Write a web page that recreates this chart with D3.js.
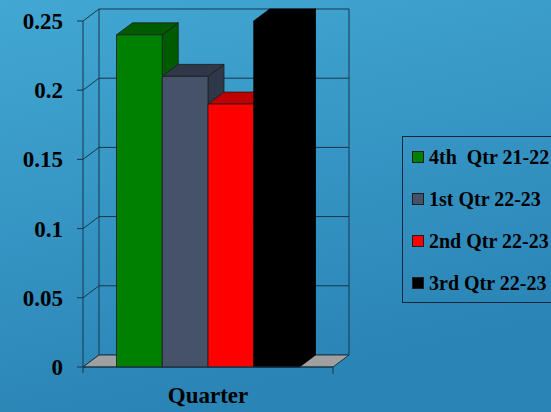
<!DOCTYPE html>
<html><head><meta charset="utf-8">
<script src="https://cdn.jsdelivr.net/npm/d3@7"></script>
<style>html,body{margin:0;padding:0;overflow:hidden;background:#3396c4}</style>
</head><body>
<script>
const categories = ["Quarter"];
const seriesNames = ["4th  Qtr 21-22", "1st Qtr 22-23", "2nd Qtr 22-23", "3rd Qtr 22-23"];
const seriesValues = [0.24, 0.21, 0.19, 0.25];
const yTicks = [0, 0.05, 0.1, 0.15, 0.2, 0.25];
const yTickLabels = ["0", "0.05", "0.1", "0.15", "0.2", "0.25"];
const frontColors = ["#008000", "#45526a", "#ff0000", "#000000"];
const shadeColors = ["#005a00", "#2f3848", "#c00000", "#000000"];
const edgeColors = ["#1e1e1e", "#1e1e1e", "#1e1e1e", "#000000"];

const W = 551, H = 412;
const DX = 16, DY = -12;
const line = "#17364a";
const font = "'Liberation Serif', 'Times New Roman', serif";

const svg = d3.select("body").append("svg").attr("width", W).attr("height", H);
const defs = svg.append("defs");
const g = defs.append("linearGradient").attr("id", "bg")
  .attr("x1", "0").attr("y1", "0").attr("x2", "0.3").attr("y2", "1");
g.append("stop").attr("offset", "0").attr("stop-color", "#42a7d3");
g.append("stop").attr("offset", "1").attr("stop-color", "#2a84b5");
svg.append("rect").attr("width", W).attr("height", H).attr("fill", "url(#bg)");

const y = d3.scaleLinear().domain([0, 0.25]).range([367, 21]);
const x = d3.scaleBand().domain(categories).range([83, 333]).paddingInner(0).paddingOuter(0.183);
const xs = d3.scaleBand().domain(seriesNames).range([0, x.bandwidth()]).padding(0);

const x0 = 83, x1 = 333;

// back wall & left wall gridlines
const grid = svg.append("g").attr("stroke", line).attr("stroke-width", 1).attr("fill", "none");
yTicks.forEach(t => {
  grid.append("line").attr("x1", x0).attr("y1", y(t)).attr("x2", x0 + DX).attr("y2", y(t) + DY);
  grid.append("line").attr("x1", x0 + DX).attr("y1", y(t) + DY).attr("x2", x1 + DX).attr("y2", y(t) + DY);
});
grid.append("line").attr("x1", x0 + DX).attr("y1", y(0.25) + DY).attr("x2", x0 + DX).attr("y2", y(0) + DY);
grid.append("line").attr("x1", x1 + DX).attr("y1", y(0.25) + DY).attr("x2", x1 + DX).attr("y2", y(0) + DY);

// floor
svg.append("path")
  .attr("d", `M${x0},${y(0)}L${x1},${y(0)}L${x1 + DX},${y(0) + DY}L${x0 + DX},${y(0) + DY}Z`)
  .attr("fill", "#a0a0a0").attr("stroke", line).attr("stroke-width", 1);

// bars
const bars = svg.append("g");
seriesNames.forEach((s, i) => {
  const v = seriesValues[i];
  const bx = x(categories[0]) + xs(s), bw = xs.bandwidth();
  const top = y(v), bot = y(0);
  const gb = bars.append("g").attr("stroke", edgeColors[i]).attr("stroke-width", 0.8).attr("stroke-linejoin", "round");
  gb.append("path").attr("fill", shadeColors[i])
    .attr("d", `M${bx + bw},${bot}L${bx + bw + DX},${bot + DY}L${bx + bw + DX},${top + DY}L${bx + bw},${top}Z`);
  gb.append("path").attr("fill", shadeColors[i])
    .attr("d", `M${bx},${top}L${bx + DX},${top + DY}L${bx + bw + DX},${top + DY}L${bx + bw},${top}Z`);
  gb.append("rect").attr("x", bx).attr("y", top).attr("width", bw).attr("height", bot - top).attr("fill", frontColors[i]);
});

// front axes
const ax = svg.append("g").attr("stroke", line).attr("stroke-width", 1);
ax.append("line").attr("x1", x0).attr("y1", y(0.25)).attr("x2", x0).attr("y2", y(0) + 6);
ax.append("line").attr("x1", x0).attr("y1", y(0)).attr("x2", x1).attr("y2", y(0));
ax.append("line").attr("x1", x1).attr("y1", y(0)).attr("x2", x1).attr("y2", y(0) + 7);
yTicks.forEach(t => {
  ax.append("line").attr("x1", x0 - 6).attr("y1", y(t)).attr("x2", x0).attr("y2", y(t));
});

// tick labels
svg.append("g").selectAll("text").data(yTicks).join("text")
  .attr("x", 63).attr("y", d => y(d) + 8)
  .attr("text-anchor", "end")
  .attr("font-family", font).attr("font-weight", "bold").attr("font-size", 23)
  .attr("fill", "#000")
  .text((d, i) => yTickLabels[i]);

svg.append("text").attr("x", x(categories[0]) + x.bandwidth() / 2 - 0).attr("y", 403)
  .attr("text-anchor", "middle")
  .attr("font-family", font).attr("font-weight", "bold").attr("font-size", 23)
  .attr("fill", "#000").text(categories[0]);

// legend
const lg = svg.append("g");
lg.append("rect").attr("x", 402.5).attr("y", 136.5).attr("width", 170).attr("height", 166)
  .attr("fill", "none").attr("stroke", "#102838").attr("stroke-width", 1);
const rowY = [157, 199, 241, 283];
seriesNames.forEach((s, i) => {
  lg.append("rect").attr("x", 412.5).attr("y", rowY[i] - 5.5).attr("width", 11).attr("height", 11)
    .attr("fill", frontColors[i]).attr("stroke", "#1e1e1e").attr("stroke-width", 1);
  lg.append("text").attr("x", 429).attr("y", rowY[i] + 7)
    .attr("font-family", font).attr("font-weight", "bold").attr("font-size", 20)
    .attr("fill", "#000").style("white-space", "pre").text(s);
});
</script>
</body></html>
